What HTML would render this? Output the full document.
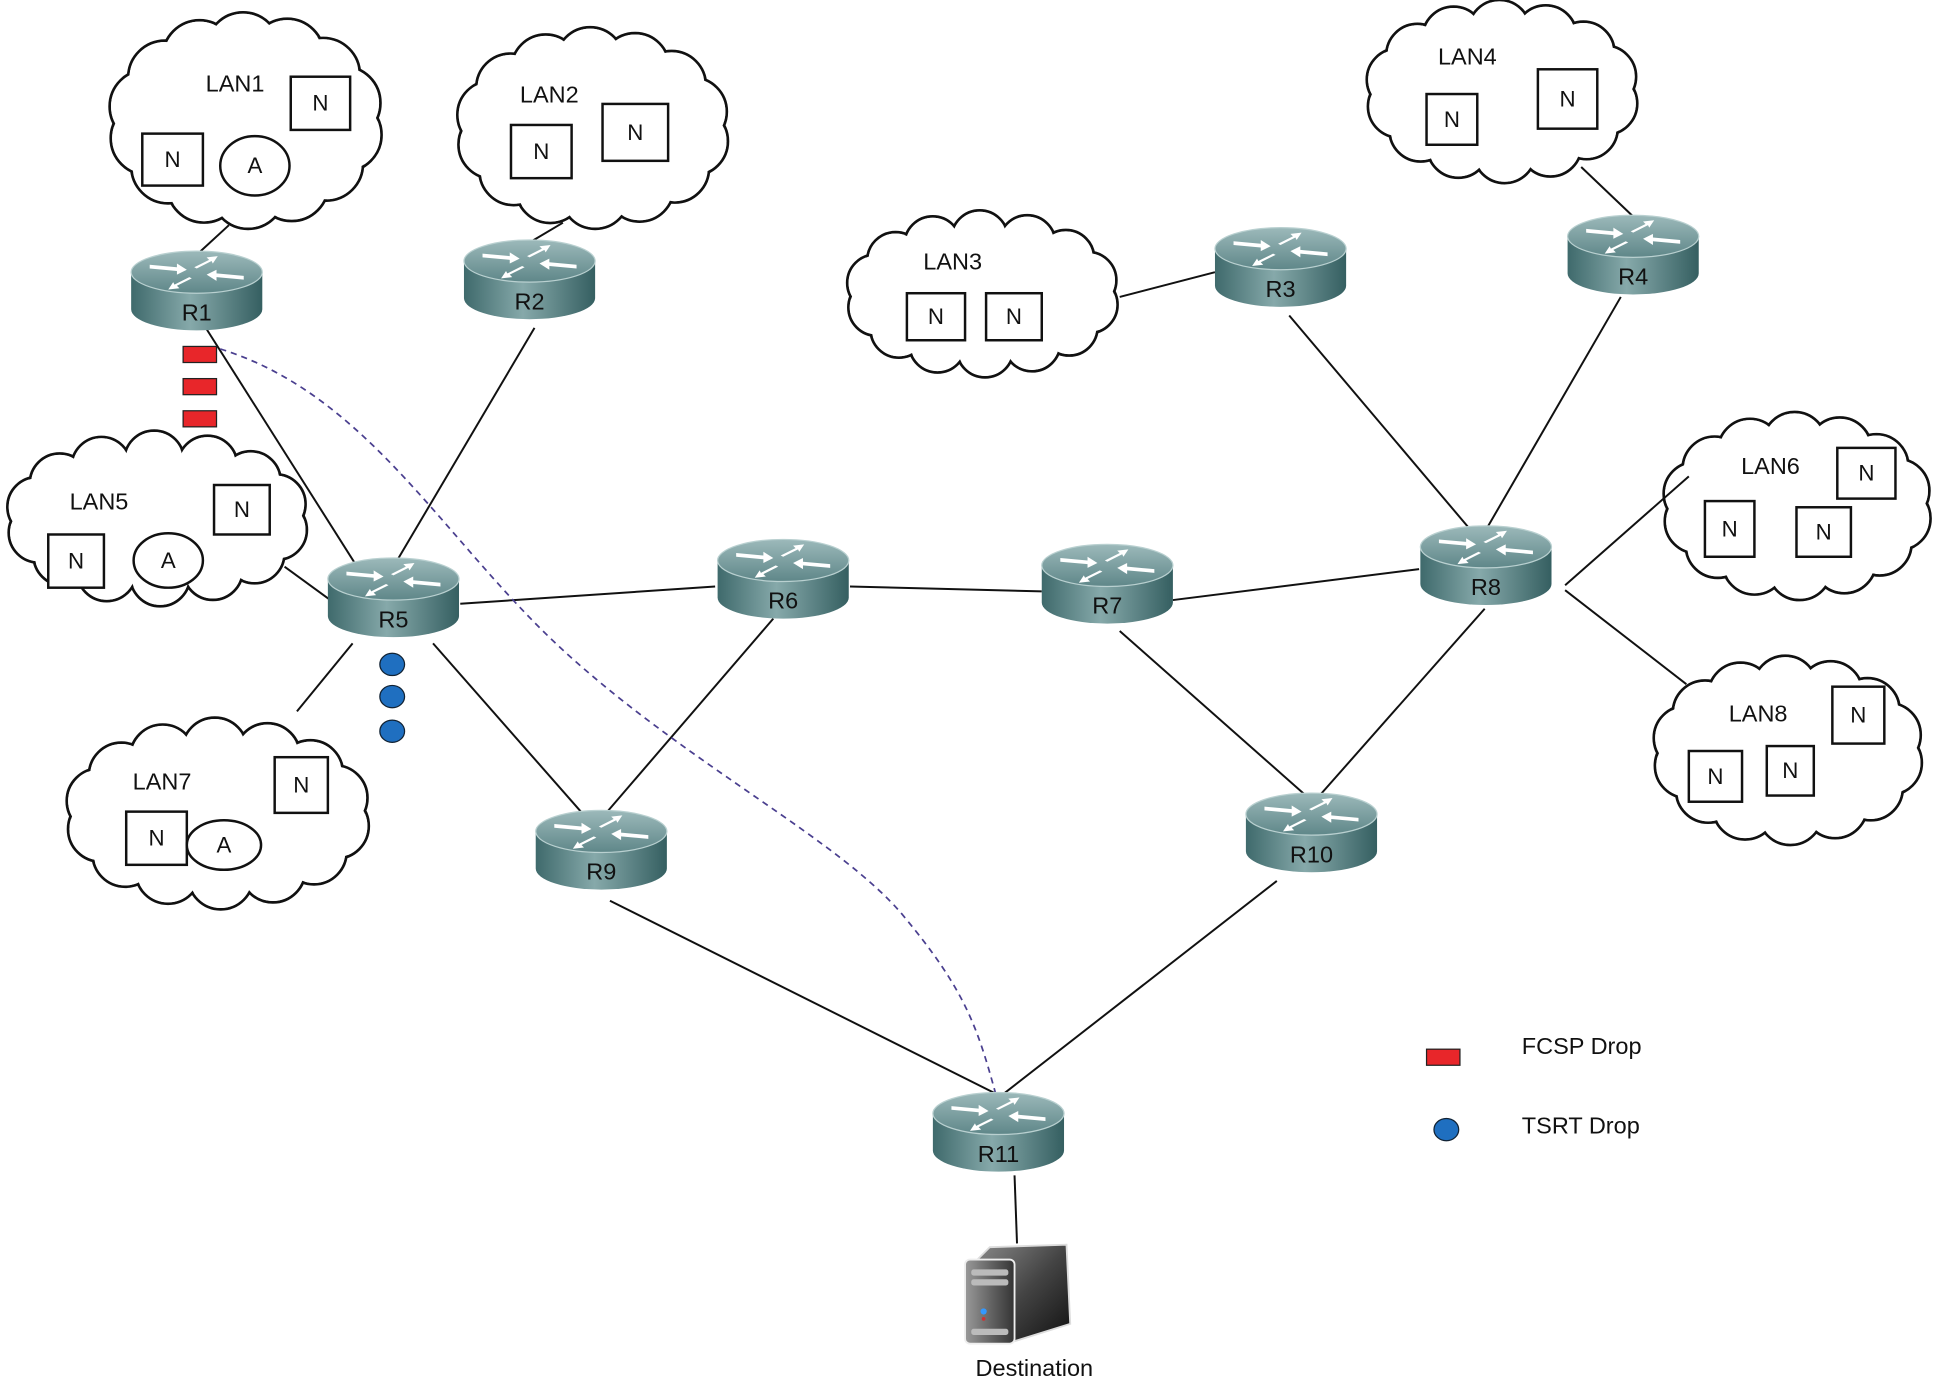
<!DOCTYPE html>
<html><head><meta charset="utf-8"><style>
html,body{margin:0;padding:0;background:#fff;width:1940px;height:1382px;overflow:hidden}
svg{display:block}
text{font-family:"Liberation Sans",sans-serif;fill:#111}
</style></head><body>
<svg id="s" width="1940" height="1382" viewBox="0 0 1568 1117" xmlns="http://www.w3.org/2000/svg">
<defs>
<linearGradient id="body" x1="0" x2="1" y1="0" y2="0">
<stop offset="0" stop-color="#3f6a6c"/><stop offset="0.45" stop-color="#86a9aa"/><stop offset="1" stop-color="#355f61"/>
</linearGradient>
<linearGradient id="top" x1="0" x2="0" y1="0" y2="1">
<stop offset="0" stop-color="#9cb9ba"/><stop offset="1" stop-color="#5f8789"/>
</linearGradient>
<linearGradient id="srv" x1="0" x2="1" y1="0" y2="1">
<stop offset="0" stop-color="#888"/><stop offset="0.5" stop-color="#444"/><stop offset="1" stop-color="#111"/>
</linearGradient>
<linearGradient id="srvf" x1="0" x2="1">
<stop offset="0" stop-color="#999"/><stop offset="1" stop-color="#333"/>
</linearGradient>
</defs>
<g id="clouds"></g>
<g stroke="#111" stroke-width="1.6" fill="none">
<line x1="185" y1="182" x2="160" y2="205"/>
<line x1="455" y1="180" x2="428" y2="196"/>
<line x1="160" y1="255" x2="300" y2="476"/>
<line x1="432" y1="265" x2="318" y2="458"/>
<line x1="230" y1="458" x2="267" y2="485"/>
<line x1="240" y1="575" x2="285" y2="520"/>
<line x1="372" y1="488" x2="578" y2="474"/>
<line x1="350" y1="520" x2="473" y2="660"/>
<line x1="687" y1="474" x2="842" y2="478"/>
<line x1="625" y1="500" x2="490" y2="657"/>
<line x1="948" y1="485" x2="1147" y2="460"/>
<line x1="905" y1="510" x2="1060" y2="647"/>
<line x1="1200" y1="492" x2="1063" y2="647"/>
<line x1="905" y1="240" x2="982" y2="220"/>
<line x1="1042" y1="255" x2="1190" y2="430"/>
<line x1="1310" y1="240" x2="1200" y2="430"/>
<line x1="1278" y1="135" x2="1320" y2="175"/>
<line x1="1265" y1="473" x2="1365" y2="385"/>
<line x1="1265" y1="477" x2="1363" y2="553"/>
<line x1="493" y1="728" x2="807" y2="885"/>
<line x1="1032" y1="712" x2="810" y2="885"/>
<line x1="820" y1="950" x2="822" y2="1005"/>
</g>
<path d="M178,282 C300,320 360,440 460,530 S680,680 730,740 S790,830 805,885" stroke="#4a3f8f" stroke-width="1.4" stroke-dasharray="5,4" fill="none"/>
<g id="routers"></g>
<g fill="#e8262a" stroke="#222" stroke-width="1">
<rect x="148" y="280" width="27" height="13"/><rect x="148" y="306" width="27" height="13"/><rect x="148" y="332" width="27" height="13"/>
<rect x="1153" y="848" width="27" height="13"/>
</g>
<g fill="#1f6fc0" stroke="#123" stroke-width="1">
<ellipse cx="317" cy="537" rx="10" ry="9"/><ellipse cx="317" cy="563" rx="10" ry="9"/><ellipse cx="317" cy="591" rx="10" ry="9"/>
<ellipse cx="1169" cy="913" rx="10" ry="9"/>
</g>
<text x="1230" y="852" font-size="19">FCSP Drop</text>
<text x="1230" y="916" font-size="19">TSRT Drop</text>
<g>
<path d="M790,1018 L800,1008 L862,1006 L865,1070 L820,1084 Z" fill="url(#srv)" stroke="#ddd" stroke-width="1.5"/>
<rect x="780" y="1018" width="40" height="68" rx="4" fill="url(#srvf)" stroke="#eee" stroke-width="1.5"/>
<rect x="785" y="1026" width="30" height="5" rx="2" fill="#bbb"/>
<rect x="785" y="1034" width="30" height="5" rx="2" fill="#bbb"/>
<rect x="785" y="1074" width="30" height="5" rx="2" fill="#bbb"/>
<circle cx="795" cy="1060" r="2.5" fill="#39f"/>
<circle cx="795" cy="1066" r="1.5" fill="#c33"/>
</g>
<text x="836" y="1112" font-size="19" text-anchor="middle">Destination</text>
</svg>
<script>
var NS="http://www.w3.org/2000/svg";
function el(p,t,a,txt){var e=document.createElementNS(NS,t);for(var k in a)e.setAttribute(k,a[k]);if(txt)e.textContent=txt;p.appendChild(e);return e;}
var C=document.getElementById("clouds");
function cloud(x1,y1,x2,y2,label,lx,ly,items){
 var cx=(x1+x2)/2,cy=(y1+y2)/2,rx=(x2-x1)/2,ry=(y2-y1)/2;
 var n=14,r=Math.min(rx,ry)*0.34,pts=[];
 for(var i=0;i<n;i++){var a=i/n*2*Math.PI+0.2;pts.push([cx+(rx-r)*Math.cos(a),cy+(ry-r)*Math.sin(a)]);}
 pts.forEach(function(p){el(C,"circle",{cx:p[0],cy:p[1],r:r,fill:"#fff",stroke:"#111","stroke-width":2.2});});
 pts.forEach(function(p){el(C,"circle",{cx:p[0],cy:p[1],r:r-1.1,fill:"#fff"});});
 el(C,"ellipse",{cx:cx,cy:cy,rx:rx-r,ry:ry-r,fill:"#fff"});
 el(C,"text",{x:lx,y:ly,"font-size":19,"text-anchor":"middle"},label);
 items.forEach(function(it){
  if(it[0]=="N"){el(C,"rect",{x:it[1],y:it[2],width:it[3]-it[1],height:it[4]-it[2],fill:"#fff",stroke:"#111","stroke-width":2});
   el(C,"text",{x:(it[1]+it[3])/2,y:(it[2]+it[4])/2+6,"font-size":18,"text-anchor":"middle"},"N");}
  else{el(C,"ellipse",{cx:it[1],cy:it[2],rx:it[3],ry:it[4],fill:"#fff",stroke:"#111","stroke-width":2});
   el(C,"text",{x:it[1],y:it[2]+6,"font-size":18,"text-anchor":"middle"},"A");}
 });
}
cloud(87,10,310,185,"LAN1",190,74,[["N",235,62,283,105],["N",115,108,164,150],["A",206,134,28,24]]);
cloud(368,22,590,185,"LAN2",444,83,[["N",413,101,462,144],["N",487,84,540,130]]);
cloud(683,170,905,305,"LAN3",770,218,[["N",733,237,780,275],["N",797,237,842,275]]);
cloud(1103,0,1325,148,"LAN4",1186,52,[["N",1153,76,1194,117],["N",1243,56,1291,104]]);
cloud(4,348,250,490,"LAN5",80,412,[["N",173,392,218,432],["N",39,432,84,475],["A",136,453,28,22]]);
cloud(1343,333,1562,485,"LAN6",1431,383,[["N",1485,362,1532,403],["N",1378,405,1418,450],["N",1452,410,1496,450]]);
cloud(52,580,300,735,"LAN7",131,638,[["N",222,612,265,657],["N",102,656,151,699],["A",181,683,30,20]]);
cloud(1335,530,1555,683,"LAN8",1421,583,[["N",1481,555,1523,601],["N",1365,607,1408,648],["N",1428,603,1466,643]]);
var R=document.getElementById("routers");
function router(name,cx,y0){
 var w=53,ry=17,h=30;
 el(R,"path",{d:"M"+(cx-w)+","+y0+" L"+(cx-w)+","+(y0+h)+" A"+w+","+ry+" 0 0 0 "+(cx+w)+","+(y0+h)+" L"+(cx+w)+","+y0+" Z",fill:"url(#body)"});
 el(R,"ellipse",{cx:cx,cy:y0,rx:w,ry:ry,fill:"url(#top)",stroke:"#b9d0d0","stroke-width":1});
 var g=el(R,"g",{fill:"#fff",stroke:"none"});
 el(g,"path",{d:"M"+(cx-38)+","+(y0-6)+" l22,2 l0,-3 l8,5 l-8,4 l0,-3 l-22,-2z"});
 el(g,"path",{d:"M"+(cx+38)+","+(y0+6)+" l-22,-2 l0,3 l-8,-5 l8,-4 l0,3 l22,2z"});
 el(g,"path",{d:"M"+(cx-2)+","+(y0-4)+" l12,-6 l-2,-2 l9,-1 l-4,6 l-1,-2 l-12,6z"});
 el(g,"path",{d:"M"+(cx-4)+","+(y0+5)+" l-12,6 l2,2 l-9,1 l4,-6 l1,2 l12,-6z"});
 el(R,"text",{x:cx,y:y0+39,"font-size":19,"text-anchor":"middle"},name);
}
router("R1",159,220);router("R2",428,211);router("R3",1035,201);router("R4",1320,191);
router("R5",318,468);router("R6",633,453);router("R7",895,457);router("R8",1201,442);
router("R9",486,672);router("R10",1060,658);router("R11",807,900);
</script>
</body></html>
